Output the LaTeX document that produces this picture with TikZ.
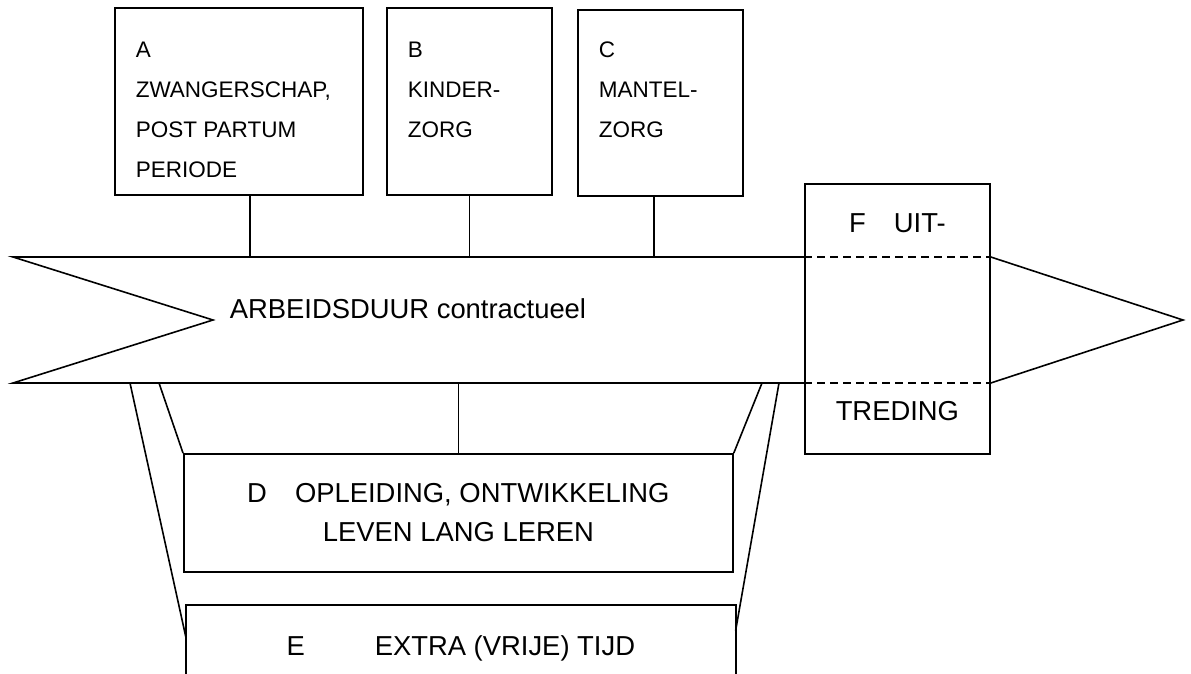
\documentclass[tikz,border=0pt]{standalone}
\usepackage{fontspec}
\setmainfont{Liberation Sans}
\usetikzlibrary{calc}

\begin{document}
\begin{tikzpicture}[
  x=0.5pt, y=-0.5pt,
  line width=0.8pt,
  box/.style={draw, line width=0.9pt, anchor=north west, inner sep=0pt},
  frame/.style={anchor=north west, inner sep=0pt},
  small/.style={inner sep=0pt, align=left, font=\fontsize{11.25pt}{20pt}\selectfont},
  big/.style={inner sep=0pt, align=center, font=\fontsize{13.7pt}{19.5pt}\selectfont},
  cut/.style={dash pattern=on 4pt off 2.5pt}
]
\useasboundingbox (0,0) rectangle (1191,674);

% boxes on top of the arrow
\node[box, minimum width=124pt, minimum height=93.5pt] (A) at (114,7) {};
\node[box, minimum width=82.5pt, minimum height=93.5pt] (B) at (386,7) {};
\node[box, minimum width=82.5pt, minimum height=93pt] (C) at (577,9) {};
\node[small, anchor=north west] (atext) at ([xshift=10.5pt, yshift=-17pt]A.north west) {A\\ZWANGERSCHAP,\\POST PARTUM\\PERIODE};
\node[small, anchor=north west] (btext) at ([xshift=10.5pt, yshift=-17pt]B.north west) {B\\KINDER-\\ZORG};
\node[small, anchor=north west] (ctext) at ([xshift=10.5pt, yshift=-16pt]C.north west) {C\\MANTEL-\\ZORG};

% exit box
\node[box, minimum width=92.5pt, minimum height=135pt] (F) at (804,183) {};
\node[big, anchor=base] (fup) at ([yshift=-25pt]F.north) {F\hspace{14pt}UIT-};
\node[big, anchor=base] (fdown) at ([yshift=17pt]F.south) {TREDING};

% boxes below the arrow
\node[box, big, minimum width=274.5pt, minimum height=59pt] (D) at (183,453) {D\hspace{14pt}OPLEIDING, ONTWIKKELING\\LEVEN LANG LEREN};
\node[frame, minimum width=274pt, minimum height=34.5pt] (E) at (186,605) {};
\draw[line width=0.9pt] (E.south west) -- (E.north west) -- (E.north east) -- (E.south east);
\node[big, anchor=base] (etext) at ([yshift=-25pt]E.north) {E\hspace{35pt}EXTRA (VRIJE) TIJD};

% the arrow
\coordinate (tt) at (13,257);
\coordinate (tb) at (13,383);
\coordinate (notch) at (213,320);
\coordinate (tip) at (1183,320);
\draw (tt -| F.west) -- (tt) -- (notch) -- (tb) -- (tb -| F.west);
\draw[cut] (tt -| F.west) -- (tt -| F.east);
\draw[cut] (tb -| F.west) -- (tb -| F.east);
\draw (tt -| F.east) -- (tip) -- (tb -| F.east);
\node[big, anchor=base west] (arbeid) at (229,319) {ARBEIDSDUUR contractueel};

% links up
\coordinate (ja) at ([xshift=5.5pt]A.south);
\coordinate (jc) at ([xshift=-3.25pt]C.south);
\draw (ja) -- (ja |- tt);
\draw (B.south) -- (B.south |- tt);
\draw (jc) -- (jc |- tt);

% links down
\coordinate (ol) at (130,383);
\coordinate (il) at (159,383);
\coordinate (ir) at (762,383);
\coordinate (or) at (779,383);
\draw (D.north) -- (D.north |- tb);
\draw (il) -- (D.north west);
\draw (ir) -- (D.north east);
\draw (ol) -- ([yshift=1.25pt]E.west);
\draw (or) -- ([yshift=4.75pt]E.east);
\end{tikzpicture}
\end{document}
